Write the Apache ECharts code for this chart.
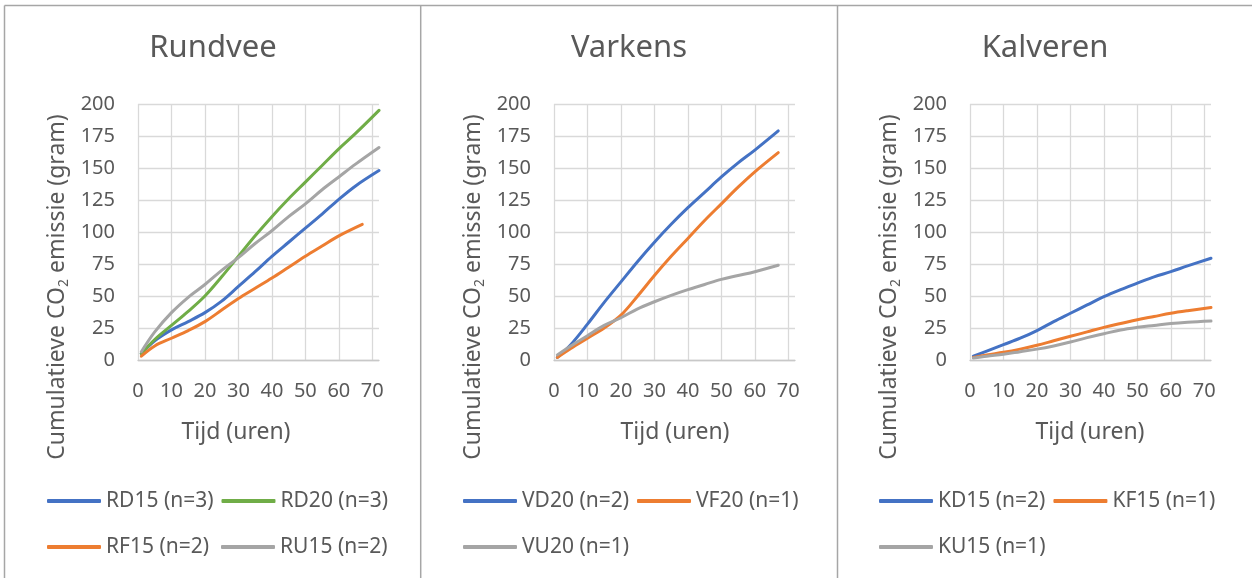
<!DOCTYPE html>
<html>
<head>
<meta charset="utf-8">
<script src="https://cdn.jsdelivr.net/npm/echarts@6/dist/echarts.min.js"></script>
<style>
  html, body { margin: 0; padding: 0; background: #ffffff; }
  #chart { width: 1252px; height: 578px; }
</style>
</head>
<body>
<div id="chart"></div>
<script>
// Cumulatieve CO2-emissie per diergroep (gram) tegen de tijd (uren)

const panelTitles = ['Rundvee', 'Varkens', 'Kalveren'];
const xTicks = [0, 10, 20, 30, 40, 50, 60, 70];
const yTicks = [0, 25, 50, 75, 100, 125, 150, 175, 200];

// Rundvee
const rundveeUren = [1, 5, 10, 15, 20, 25, 30, 35, 40, 45, 50, 55, 60, 65, 72];
const rd15 = [5, 15, 23.5, 30, 37, 46, 57.5, 69, 81, 92, 103, 114, 125.5, 136, 148];
const rd20 = [5, 16, 27, 38, 50, 65, 81, 97, 112, 126, 139, 152, 165, 177, 195];
const ru15 = [6.5, 22, 37, 49, 59, 70, 80, 91, 101, 112, 122, 133, 143, 153, 166];
const rf15Uren = [1, 5, 10, 15, 20, 25, 30, 35, 40, 45, 50, 55, 60, 67];
const rf15 = [3, 11, 17, 23, 30, 39, 48, 56, 64, 72.5, 81, 89, 97, 106];

// Varkens
const varkensUren = [1, 5, 10, 15, 20, 25, 30, 35, 40, 45, 50, 55, 60, 67];
const vd20 = [2, 12, 28, 45, 61, 77, 92, 106, 119, 131, 143, 154, 164, 179];
const vf20 = [2, 9, 17, 25, 35, 50, 66, 81, 95, 109, 122, 135, 147, 162];
const vu20 = [4, 11, 19, 27, 33, 40, 45.5, 50.5, 55, 59, 63, 66, 69, 74];

// Kalveren
const kalverenUren = [1, 5, 10, 15, 20, 25, 30, 35, 40, 45, 50, 55, 60, 65, 72];
const kd15 = [3, 7, 12, 17, 23, 30, 36.5, 43, 49.5, 55, 60, 65, 69, 73.5, 79.5];
const kf15 = [2, 4, 6, 8.5, 11.5, 15, 18.5, 22, 25.5, 28.5, 31.5, 34, 36.5, 38.5, 41];
const ku15 = [1.5, 3, 4.5, 6.5, 8.5, 11, 14, 17.5, 20.5, 23.5, 25.5, 27, 28.5, 29.5, 30.5];

const BLUE = '#4472C4', ORANGE = '#ED7D31', GREY = '#A5A5A5', GREEN = '#70AD47';
const TEXT = '#595959';
const FONT = '"Noto Sans", "Open Sans", sans-serif';
const GRID_LINE = '#d9d9d9';

const pairs = (xs, ys) => xs.map((x, i) => [x, ys[i]]);

// panel layout: plot area + text anchors
const panels = [
  { left: 138, title: 213, yTitle: 57, xTitle: 236, legendLeft: 47 },
  { left: 554, title: 629, yTitle: 473, xTitle: 675, legendLeft: 463 },
  { left: 970, title: 1045, yTitle: 889, xTitle: 1090, legendLeft: 879 }
];

const seriesDefs = [
  { name: 'RD15 (n=3)', panel: 0, color: BLUE, data: pairs(rundveeUren, rd15) },
  { name: 'RD20 (n=3)', panel: 0, color: GREEN, data: pairs(rundveeUren, rd20) },
  { name: 'RF15 (n=2)', panel: 0, color: ORANGE, data: pairs(rf15Uren, rf15) },
  { name: 'RU15 (n=2)', panel: 0, color: GREY, data: pairs(rundveeUren, ru15) },
  { name: 'VD20 (n=2)', panel: 1, color: BLUE, data: pairs(varkensUren, vd20) },
  { name: 'VF20 (n=1)', panel: 1, color: ORANGE, data: pairs(varkensUren, vf20) },
  { name: 'VU20 (n=1)', panel: 1, color: GREY, data: pairs(varkensUren, vu20) },
  { name: 'KD15 (n=2)', panel: 2, color: BLUE, data: pairs(kalverenUren, kd15) },
  { name: 'KF15 (n=1)', panel: 2, color: ORANGE, data: pairs(kalverenUren, kf15) },
  { name: 'KU15 (n=1)', panel: 2, color: GREY, data: pairs(kalverenUren, ku15) }
];

const grids = panels.map(p => ({ left: p.left, top: 104, width: 241, height: 256, containLabel: false }));

const xAxes = panels.map((p, i) => ({
  type: 'value', gridIndex: i, min: xTicks[0], max: 72, interval: 10,
  axisLine: { show: true, lineStyle: { color: '#c8c8c8', width: 1.3 } },
  axisTick: { show: false },
  axisLabel: {
    color: TEXT, fontFamily: FONT, fontSize: 20, margin: 21,
    formatter: v => (xTicks.indexOf(v) >= 0 ? String(v) : ''),
    showMaxLabel: false
  },
  splitLine: { show: true, showMaxLine: false, lineStyle: { color: GRID_LINE, width: 1.3 } }
}));

const yAxes = panels.map((p, i) => ({
  type: 'value', gridIndex: i, min: yTicks[0], max: yTicks[yTicks.length - 1], interval: 25,
  axisLine: { show: false }, axisTick: { show: false },
  axisLabel: { color: TEXT, fontFamily: FONT, fontSize: 20, margin: 23 },
  splitLine: { show: true, lineStyle: { color: GRID_LINE, width: 1.3 } }
}));

const series = seriesDefs.map(s => ({
  type: 'line', name: s.name, xAxisIndex: s.panel, yAxisIndex: s.panel,
  data: s.data, smooth: 0.35, symbol: 'none', showSymbol: false,
  lineStyle: { color: s.color, width: 3, cap: 'round' },
  itemStyle: { color: s.color },
  animation: false
}));

const legends = panels.map((p, i) => ({
  left: p.legendLeft, top: 482, width: 345, padding: 0, orient: 'horizontal',
  data: seriesDefs.filter(s => s.panel === i).map(s => s.name),
  icon: 'roundRect', itemWidth: 54, itemHeight: 4, itemGap: 8,
  textStyle: { color: TEXT, fontFamily: FONT, fontSize: 21, width: 107, overflow: 'none', lineHeight: 38 },
  selectedMode: false
}));

const textEl = (x, y, text, size, rotation, rich) => ({
  type: 'text', x, y, rotation: rotation || 0, silent: true,
  style: { text, fill: TEXT, font: size + 'px ' + FONT, align: 'center', verticalAlign: 'middle', rich }
});

const graphic = [];
// panel frames
graphic.push({ type: 'line', silent: true, shape: { x1: 4.5, y1: 5.5, x2: 1252, y2: 5.5 }, style: { stroke: '#a6a6a6', lineWidth: 1.5 } });
[4.5, 420.7, 837.5].forEach(x => graphic.push({ type: 'line', silent: true, shape: { x1: x, y1: 5.5, x2: x, y2: 578 }, style: { stroke: '#a6a6a6', lineWidth: 1.5 } }));

panels.forEach((p, i) => {
  graphic.push(textEl(p.title, 48, panelTitles[i], 31));
  graphic.push(textEl(p.xTitle, 432, 'Tijd (uren)', 23));
  graphic.push(textEl(p.yTitle, 287, '{a|Cumulatieve CO}{s|2}{a| emissie (gram)}', 23, Math.PI / 2, {
    a: { fontSize: 23, fontFamily: FONT, color: TEXT, lineHeight: 30 },
    s: { fontSize: 14, fontFamily: FONT, color: TEXT, lineHeight: 30, padding: [14, 0, 0, 0] }
  }));
});

const chart = echarts.init(document.getElementById('chart'), null, { renderer: 'canvas' });
chart.setOption({
  backgroundColor: '#ffffff',
  animation: false,
  grid: grids,
  xAxis: xAxes,
  yAxis: yAxes,
  legend: legends,
  series,
  graphic
});
</script>
</body>
</html>
